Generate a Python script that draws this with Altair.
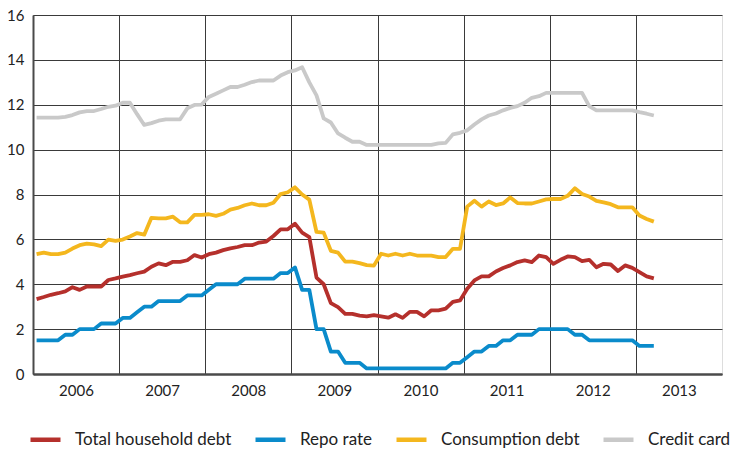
import altair as alt
import pandas as pd

# Monthly observations, Jan 2006 - Mar 2013 (87 months)
start_year = 2006
n_months = 87

series_names = ["Total household debt", "Repo rate", "Consumption debt", "Credit card"]
series_colors = ["#B5302C", "#0A8BCB", "#F4B71E", "#C9C9C9"]

total_household_debt = [
    3.34, 3.43, 3.53, 3.60, 3.68, 3.87, 3.75, 3.90, 3.90, 3.90, 4.19, 4.26,
    4.34, 4.41, 4.49, 4.56, 4.78, 4.93, 4.85, 5.00, 5.00, 5.07, 5.30, 5.19,
    5.34, 5.41, 5.52, 5.60, 5.66, 5.74, 5.74, 5.86, 5.90, 6.15, 6.45, 6.45,
    6.70, 6.30, 6.10, 4.30, 4.00, 3.16, 2.98, 2.68, 2.68, 2.60, 2.57, 2.62,
    2.57, 2.51, 2.66, 2.50, 2.77, 2.77, 2.57, 2.84, 2.84, 2.91, 3.21, 3.28,
    3.80, 4.17, 4.35, 4.35, 4.57, 4.72, 4.84, 4.99, 5.06, 4.99, 5.28, 5.21,
    4.91, 5.09, 5.24, 5.21, 5.03, 5.09, 4.76, 4.91, 4.88, 4.59, 4.84, 4.73,
    4.54, 4.35, 4.26,
]

repo_rate = [
    1.50, 1.50, 1.50, 1.50, 1.75, 1.75, 2.00, 2.00, 2.00, 2.25, 2.25, 2.25,
    2.50, 2.50, 2.75, 3.00, 3.00, 3.25, 3.25, 3.25, 3.25, 3.50, 3.50, 3.50,
    3.75, 4.00, 4.00, 4.00, 4.00, 4.25, 4.25, 4.25, 4.25, 4.25, 4.50, 4.50,
    4.75, 3.75, 3.75, 2.00, 2.00, 1.00, 1.00, 0.50, 0.50, 0.50, 0.25, 0.25,
    0.25, 0.25, 0.25, 0.25, 0.25, 0.25, 0.25, 0.25, 0.25, 0.25, 0.50, 0.50,
    0.75, 1.00, 1.00, 1.25, 1.25, 1.50, 1.50, 1.75, 1.75, 1.75, 2.00, 2.00,
    2.00, 2.00, 2.00, 1.75, 1.75, 1.50, 1.50, 1.50, 1.50, 1.50, 1.50, 1.50,
    1.25, 1.25, 1.25,
]

consumption_debt = [
    5.34, 5.41, 5.34, 5.34, 5.41, 5.59, 5.74, 5.81, 5.78, 5.70, 5.99, 5.93,
    5.99, 6.13, 6.28, 6.21, 6.96, 6.94, 6.94, 7.01, 6.76, 6.76, 7.09, 7.09,
    7.12, 7.05, 7.14, 7.33, 7.40, 7.52, 7.60, 7.52, 7.52, 7.63, 8.02, 8.10,
    8.32, 8.00, 7.77, 6.33, 6.30, 5.49, 5.41, 5.01, 5.01, 4.94, 4.85, 4.83,
    5.36, 5.28, 5.36, 5.28, 5.36, 5.28, 5.28, 5.28, 5.21, 5.21, 5.58, 5.58,
    7.46, 7.72, 7.46, 7.69, 7.53, 7.60, 7.87, 7.62, 7.60, 7.60, 7.69, 7.78,
    7.80, 7.80, 7.94, 8.28, 8.02, 7.91, 7.72, 7.65, 7.57, 7.43, 7.43, 7.43,
    7.06, 6.91, 6.79,
]

credit_card = [
    11.43, 11.43, 11.43, 11.43, 11.46, 11.54, 11.66, 11.72, 11.72, 11.81, 11.91, 11.96,
    12.09, 12.09, 11.58, 11.10, 11.18, 11.29, 11.35, 11.35, 11.35, 11.84, 11.99, 12.01,
    12.35, 12.49, 12.64, 12.79, 12.79, 12.89, 13.01, 13.08, 13.08, 13.08, 13.30, 13.45,
    13.53, 13.67, 13.00, 12.42, 11.39, 11.21, 10.72, 10.53, 10.35, 10.35, 10.21, 10.21,
    10.21, 10.21, 10.21, 10.21, 10.21, 10.21, 10.21, 10.21, 10.28, 10.30, 10.68, 10.75,
    10.86, 11.12, 11.35, 11.52, 11.61, 11.75, 11.86, 11.94, 12.09, 12.31, 12.38, 12.53,
    12.53, 12.53, 12.53, 12.53, 12.53, 11.94, 11.75, 11.75, 11.75, 11.75, 11.75, 11.75,
    11.67, 11.60, 11.52,
]

year_ticks = [2006, 2007, 2008, 2009, 2010, 2011, 2012, 2013]
y_ticks = [0, 2, 4, 6, 8, 10, 12, 14, 16]

# Build long table; each monthly value is placed at the middle of its month
all_values = [total_household_debt, repo_rate, consumption_debt, credit_card]
rows = []
for name, vals in zip(series_names, all_values):
    for i, v in enumerate(vals):
        rows.append({"t": start_year + (i + 0.5) / 12.0, "value": v, "series": name})
df = pd.DataFrame(rows)

font = "Lato"

lines = alt.Chart(df).mark_line(strokeWidth=3.8, strokeJoin="round").encode(
    x=alt.X(
        "t:Q",
        scale=alt.Scale(domain=[2006, 2014], nice=False, zero=False),
        axis=alt.Axis(
            values=year_ticks,
            format="d",
            title=None,
            grid=True,
            gridColor="#3a3a3a",
            gridWidth=1,
            ticks=False,
            labelOffset=43,
            labelPadding=9,
            labelFlush=False,
            labelOverlap=False,
            labelFontSize=15,
            labelFont=font,
            labelColor="#222222",
            domainColor="#4a4a4a",
            domainWidth=2.5,
        ),
    ),
    y=alt.Y(
        "value:Q",
        scale=alt.Scale(domain=[0, 16], nice=False),
        axis=alt.Axis(
            values=y_ticks,
            title=None,
            grid=True,
            gridColor="#3a3a3a",
            gridWidth=1,
            ticks=False,
            labelPadding=9,
            labelFontSize=15,
            labelFont=font,
            labelColor="#222222",
            domainColor="#4a4a4a",
            domainWidth=2,
        ),
    ),
    color=alt.Color(
        "series:N",
        scale=alt.Scale(domain=series_names, range=series_colors),
        sort=series_names,
        legend=alt.Legend(
            title=None,
            orient="none",
            direction="horizontal",
            legendX=-5,
            legendY=407,
            symbolType="stroke",
            symbolSize=900,
            symbolStrokeWidth=4.5,
            labelFont=font,
            labelFontSize=17,
            labelColor="#222222",
            labelOffset=12,
            columnPadding=14,
            padding=0,
            labelLimit=300,
        ),
    ),
)

chart = lines.properties(
    width=689,
    height=359,
    autosize=alt.AutoSizeParams(type="none"),
    padding={"left": 25, "top": 7, "right": 9, "bottom": 75},
).configure_view(
    stroke="#444444",
    strokeWidth=1,
).configure(background="white")

chart.save("out.html", embed_options={"renderer": "svg", "actions": False})
